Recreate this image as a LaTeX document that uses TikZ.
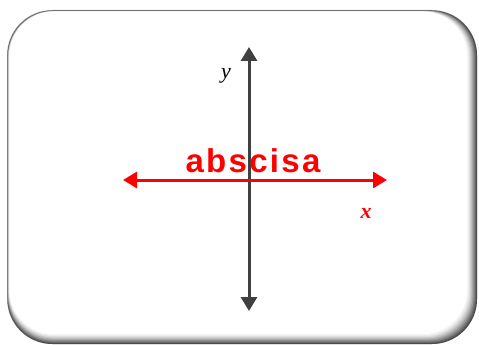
\documentclass[tikz,border=0pt]{standalone}
\usepackage{fontspec}
\setmainfont{Liberation Serif}
\newfontfamily\absfont[LetterSpace=7]{Liberation Sans}
\usetikzlibrary{arrows.meta}
\definecolor{axisgray}{HTML}{404040}
\definecolor{axisred}{HTML}{FF0000}
\tikzset{
  axisline/.style={line width=3pt,{Triangle[length=14pt,width=16pt]}-{Triangle[length=14pt,width=16pt]}},
  axislabel/.style={inner sep=0pt, anchor=base, font=\itshape\fontsize{22}{22}\selectfont},
}
\begin{document}
\begin{tikzpicture}[x=1pt,y=-1pt]
\useasboundingbox (0,0) rectangle (479,345);
% shadowed rounded frame
\fill[black!30, rounded corners=45pt] (7,10) rectangle (477,344);
\foreach \k/\c in {0/70,1/60,2/50,3/40,4/30,5/22,6/14,7/8,8/4}{
  \fill[black!\c, rounded corners=45pt] (7.5+0.2*\k,10.5+0.15*\k) rectangle (477-1.1*\k,344-1.1*\k);
}
\fill[white, rounded corners=44pt] (9.5,11.5) rectangle (467,334);
% axes
\coordinate (ytop) at (249,47);
\coordinate (ybot) at (249,311);
\coordinate (xl) at (123,180);
\coordinate (xr) at (387,180);
\draw[axisline, axisgray] (ybot) -- (ytop);
\draw[axisline, axisred] (xl) -- (xr);
\node[anchor=base, text=axisred, font=\absfont\bfseries\fontsize{33}{33}\selectfont, inner sep=0pt] (abs) at (253,172) {abscisa};
\node[axislabel, text=black] (ylab) at (226,78) {y};
\node[axislabel, text=axisred, font=\bfseries\itshape\fontsize{22}{22}\selectfont] (xlab) at (366,218) {x};
\end{tikzpicture}
\end{document}
